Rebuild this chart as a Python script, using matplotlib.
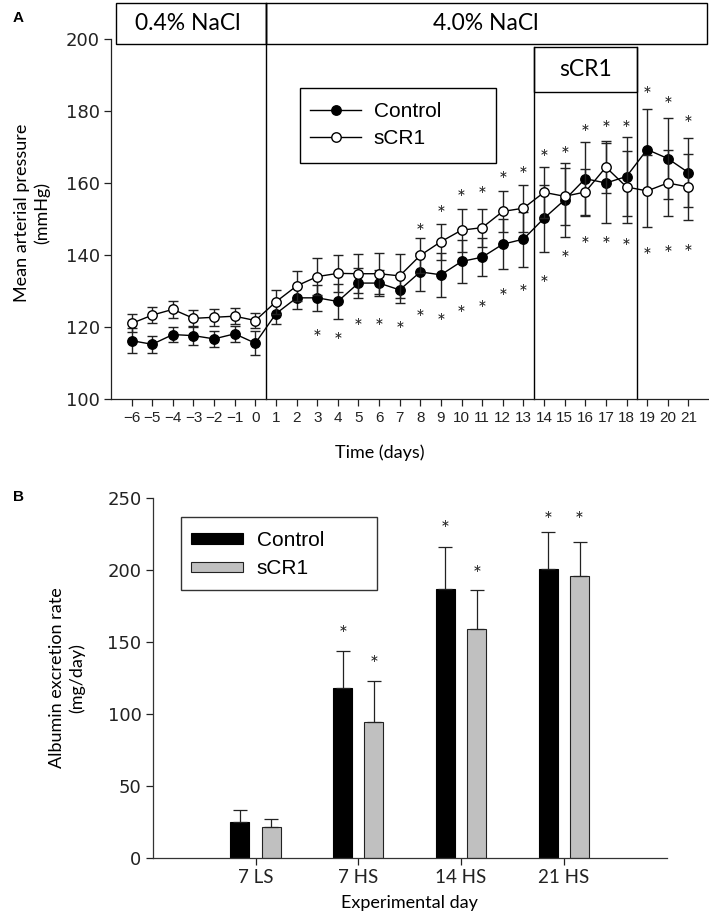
import matplotlib
matplotlib.use("Agg")
import matplotlib.pyplot as plt
from matplotlib.patches import Rectangle
from matplotlib.lines import Line2D

# ---- panel A data: mean arterial pressure (mmHg) ----
days = list(range(-6, 22))
ctrl_map = [116.2, 115.2, 117.9, 117.6, 116.7, 118.1, 115.5,
            123.7, 128.1, 128.1, 127.1, 132.2, 132.2, 130.3,
            135.3, 134.5, 138.2, 139.4, 143.0, 144.4,
            150.2, 155.3, 161.2, 160.0, 161.8,
            169.3, 166.8, 162.9]
ctrl_map_err = [3.5, 2.3, 2.2, 2.6, 2.3, 2.3, 3.3,
                3.0, 3.2, 3.7, 4.9, 4.1, 3.6, 3.5,
                5.3, 6.1, 6.1, 5.2, 7.0, 7.6,
                9.3, 10.2, 10.3, 11.0, 11.0,
                11.3, 11.2, 9.6]
scr1_map = [121.0, 123.3, 124.9, 122.4, 122.7, 123.0, 121.8,
            127.0, 131.4, 134.0, 134.9, 134.8, 134.8, 134.2,
            139.9, 143.7, 146.9, 147.6, 152.1, 153.0,
            157.4, 156.3, 157.5, 164.4, 158.9,
            157.8, 160.0, 158.9]
scr1_map_err = [2.5, 2.3, 2.4, 2.3, 2.4, 2.3, 2.2,
                3.3, 4.2, 5.1, 5.1, 5.4, 5.7, 6.1,
                4.9, 5.0, 6.0, 5.3, 5.8, 6.5,
                7.1, 8.0, 6.5, 7.2, 10.0,
                10.0, 9.2, 9.2]
star_hi_days = list(range(8, 22))
star_hi_y = [148.1, 153.0, 157.4, 158.3, 162.5, 163.8, 168.5, 169.4,
             175.4, 176.6, 176.6, 186.0, 183.2, 177.9]
star_lo_days = list(range(3, 22))
star_lo_y = [118.7, 117.8, 121.7, 121.7, 120.8, 124.1, 123.1, 125.2, 126.6,
             130.0, 131.2, 133.7, 140.5, 144.4, 144.4, 144.0, 141.4, 141.8, 142.3]
phase_edges = [0.5, 13.5, 18.5]

# ---- panel B data: albumin excretion (mg/day) ----
exp_days = ['7 LS', '7 HS', '14 HS', '21 HS']
ctrl_alb = [25.4, 118.1, 187.0, 200.9]
ctrl_alb_err = [8.1, 25.6, 29.4, 25.5]
scr1_alb = [21.5, 94.4, 159.5, 196.0]
scr1_alb_err = [6.0, 28.9, 26.6, 23.4]
ctrl_alb_star = [None, 159.7, 232.6, 239.1]
scr1_alb_star = [None, 138.9, 201.4, 239.1]

W, H = 709, 916
fig = plt.figure(figsize=(W / 100, H / 100), dpi=100)
num_font = 'Liberation Sans'
wide_font = 'DejaVu Sans'
lab_font = 'Lato'


def star(ax, x, y, size=15):
    # asterisk glyph sits high; shift so its middle lands on y
    ax.annotate('*', (x, y), xytext=(0, -0.62 * size), textcoords='offset points',
                ha='center', va='baseline', fontsize=size, family=lab_font,
                color='#222222', annotation_clip=False)


# ================= panel A =================
ax1 = fig.add_axes([111 / W, 1 - 399 / H, 598 / W, 360 / H])
ax1.errorbar(days, ctrl_map, yerr=ctrl_map_err, color='black', lw=1.0,
             marker='o', ms=6.8, mfc='black', mec='black', ecolor='#222222',
             elinewidth=1.0, capsize=3.4, capthick=1.0, zorder=3)
ax1.errorbar(days, scr1_map, yerr=scr1_map_err, color='black', lw=1.0,
             marker='o', ms=6.8, mfc='white', mec='black', ecolor='#222222',
             elinewidth=1.0, capsize=3.4, capthick=1.0, zorder=4)
for d, y in zip(star_hi_days, star_hi_y):
    star(ax1, d, y)
for d, y in zip(star_lo_days, star_lo_y):
    star(ax1, d, y)

ax1.set_xlim(-7, 22)
ax1.set_ylim(100, 200)
ax1.set_xticks(days)
ax1.set_yticks(range(100, 201, 20))
ax1.tick_params(axis='x', length=5, width=0.9, labelsize=11, pad=4, colors='#222222')
ax1.tick_params(axis='y', length=5, width=0.9, labelsize=13, pad=3, colors='#222222')
for lab in ax1.get_xticklabels():
    lab.set_family(num_font)
for lab in ax1.get_yticklabels():
    lab.set_family(wide_font)
for s in ['top', 'right']:
    ax1.spines[s].set_visible(False)
for s in ['left', 'bottom']:
    ax1.spines[s].set_linewidth(0.9)
    ax1.spines[s].set_color('#222222')

# header boxes for diet phases
box_lo, box_hi = 198.6, 210.0
ax1.add_patch(Rectangle((-6.74, box_lo), phase_edges[0] + 6.74, box_hi - box_lo,
                        fill=False, ec='black', lw=1.0, clip_on=False))
ax1.add_patch(Rectangle((phase_edges[0], box_lo), 21.9 - phase_edges[0], box_hi - box_lo,
                        fill=False, ec='black', lw=1.0, clip_on=False))
ax1.text(-3.3, 204.4, '0.4% NaCl', ha='center', va='center', fontsize=16.5,
         family=lab_font, clip_on=False)
ax1.text(11.15, 204.4, '4.0% NaCl', ha='center', va='center', fontsize=16.5,
         family=lab_font, clip_on=False)
ax1.plot([phase_edges[0]] * 2, [100, box_hi], color='black', lw=1.0, clip_on=False)
ax1.plot([phase_edges[1]] * 2, [100, 197.8], color='black', lw=1.0, clip_on=False)
ax1.plot([phase_edges[2]] * 2, [100, 197.8], color='black', lw=1.0, clip_on=False)
ax1.add_patch(Rectangle((phase_edges[1], 185.3), phase_edges[2] - phase_edges[1], 12.5,
                        fill=False, ec='black', lw=1.0, clip_on=False))
ax1.text(16.0, 191.5, 'sCR1', ha='center', va='center', fontsize=16.5,
         family=lab_font)

# legend (frame drawn by hand for its wide right margin)
leg1 = ax1.legend([Line2D([], [], color='black', lw=1.0, marker='o', ms=6.8, mfc='black', mec='black'),
                   Line2D([], [], color='black', lw=1.0, marker='o', ms=6.8, mfc='white', mec='black')],
                  ['Control', 'sCR1'], loc='upper left',
                  bbox_to_anchor=(310 / W, 1 - 102 / H), bbox_transform=fig.transFigure,
                  frameon=False, prop={'family': num_font, 'size': 15},
                  handlelength=2.45, handletextpad=0.6, labelspacing=0.4,
                  borderpad=0.0, borderaxespad=0.0)
fig.patches.append(Rectangle((300 / W, 1 - 163 / H), 196 / W, 75 / H, fill=False,
                             ec='black', lw=1.0, transform=fig.transFigure, figure=fig))

fig.text(32 / W, 1 - 213 / H, 'Mean arterial pressure\n(mmHg)', rotation=90,
         ha='center', va='center', fontsize=13, family=lab_font, linespacing=1.25)
fig.text(380 / W, 1 - 453 / H, 'Time (days)', ha='center', va='center',
         fontsize=13, family=lab_font)
fig.text(18 / W, 1 - 18 / H, 'A', ha='center', va='center', fontsize=11,
         fontweight='bold', family=num_font)

# ================= panel B =================
ax2 = fig.add_axes([152.7 / W, 1 - 858.3 / H, 514 / W, 360 / H])
pos = list(range(1, len(exp_days) + 1))
off, bw = 0.152, 0.185
xc = [p - off for p in pos]
xs = [p + off for p in pos]
ax2.bar(xc, ctrl_alb, width=bw, color='black', ec='black', lw=0.8,
        yerr=[[0] * 4, ctrl_alb_err], capsize=5,
        error_kw={'elinewidth': 0.9, 'capthick': 0.9, 'ecolor': '#222222'}, label='Control')
ax2.bar(xs, scr1_alb, width=bw, color='#c0c0c0', ec='#222222', lw=0.8,
        yerr=[[0] * 4, scr1_alb_err], capsize=5,
        error_kw={'elinewidth': 0.9, 'capthick': 0.9, 'ecolor': '#222222'}, label='sCR1')
for x, y in zip(xc, ctrl_alb_star):
    if y is not None:
        star(ax2, x, y)
for x, y in zip(xs, scr1_alb_star):
    if y is not None:
        star(ax2, x, y)

ax2.set_xlim(0, 5)
ax2.set_ylim(0, 250)
ax2.set_xticks(pos)
ax2.set_xticklabels(exp_days)
ax2.set_yticks(range(0, 251, 50))
ax2.tick_params(axis='x', length=5, width=0.9, labelsize=13.5, pad=3, colors='#222222')
ax2.tick_params(axis='y', length=5, width=0.9, labelsize=13, pad=3, colors='#222222')
for lab in ax2.get_xticklabels():
    lab.set_family(lab_font)
for lab in ax2.get_yticklabels():
    lab.set_family(wide_font)
for s in ['top', 'right']:
    ax2.spines[s].set_visible(False)
for s in ['left', 'bottom']:
    ax2.spines[s].set_linewidth(0.9)
    ax2.spines[s].set_color('#333333')

leg2 = ax2.legend(loc='upper left', bbox_to_anchor=(191 / W, 1 - 531 / H),
                  bbox_transform=fig.transFigure, frameon=False,
                  prop={'family': num_font, 'size': 15},
                  handlelength=2.5, handleheight=0.4, handletextpad=0.65,
                  labelspacing=0.45, borderpad=0.0, borderaxespad=0.0)
fig.patches.append(Rectangle((181 / W, 1 - 590 / H), 196 / W, 73.3 / H, fill=False,
                             ec='#333333', lw=1.0, transform=fig.transFigure, figure=fig))

fig.text(67 / W, 1 - 678 / H, 'Albumin excretion rate\n(mg/day)', rotation=90,
         ha='center', va='center', fontsize=13, family=lab_font, linespacing=1.25)
fig.text(409 / W, 1 - 903 / H, 'Experimental day', ha='center', va='center',
         fontsize=13, family=lab_font)
fig.text(18 / W, 1 - 497 / H, 'B', ha='center', va='center', fontsize=11,
         fontweight='bold', family=num_font)

fig.savefig('out.png', dpi=100)
